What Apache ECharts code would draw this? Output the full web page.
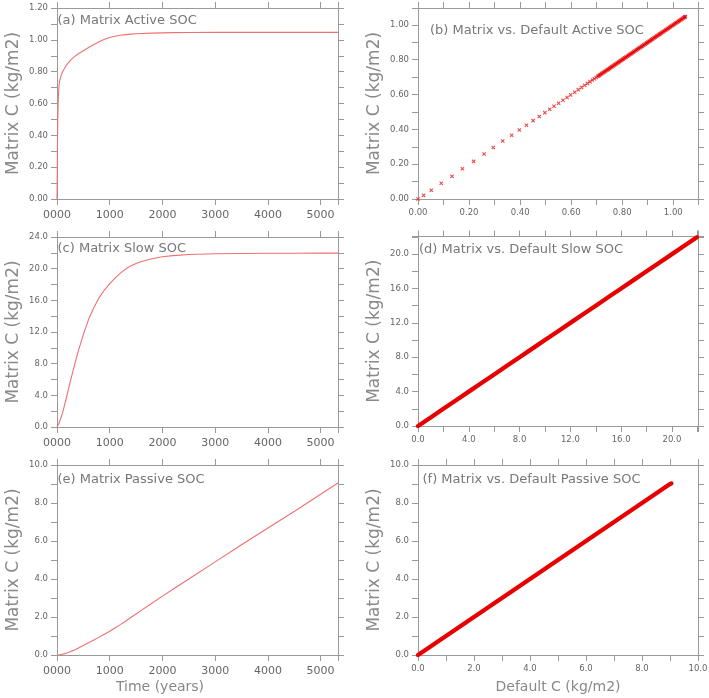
<!DOCTYPE html>
<html><head><meta charset="utf-8">
<script src="https://cdn.jsdelivr.net/npm/echarts@6/dist/echarts.min.js"></script>
<style>html,body{margin:0;padding:0;background:#fff}#c{width:709px;height:698px}</style>
</head><body><div id="c"></div>
<script>
// ---------------- data ----------------
const years = [0, 5, 10, 15, 20, 25, 30, 40, 50, 60, 80, 100, 125, 150, 175, 200, 250, 300, 350, 400, 450, 500,
  600, 700, 800, 900, 1000, 1100, 1200, 1300, 1400, 1500, 1600, 1800, 2000, 2200, 2500, 3000, 3500, 4000, 4500, 5000, 5330];
const activeMatrix = [0, 0.174, 0.367, 0.497, 0.584, 0.64, 0.675, 0.715, 0.74, 0.755, 0.778, 0.795, 0.811, 0.825, 0.839,
  0.851, 0.869, 0.885, 0.899, 0.911, 0.922, 0.932, 0.952, 0.971, 0.988, 1.003, 1.015, 1.023, 1.029, 1.033, 1.036,
  1.038, 1.040, 1.042, 1.044, 1.045, 1.046, 1.047, 1.047, 1.047, 1.047, 1.047, 1.047];
const slowMatrix = [0, 0.02, 0.07, 0.13, 0.2, 0.27, 0.34, 0.5, 0.67, 0.85, 1.25, 1.7, 2.3, 2.95, 3.6, 4.3, 5.7, 7.0,
  8.3, 9.5, 10.6, 11.7, 13.6, 15.1, 16.35, 17.3, 18.1, 18.8, 19.4, 19.95, 20.35, 20.65, 20.9, 21.25, 21.5, 21.65,
  21.78, 21.88, 21.92, 21.94, 21.95, 21.96, 21.96];
const passiveMatrix = [0, 0, 0.001, 0.001, 0.002, 0.003, 0.004, 0.007, 0.01, 0.014, 0.023, 0.035, 0.052, 0.072, 0.095,
  0.12, 0.173, 0.23, 0.293, 0.36, 0.43, 0.5, 0.64, 0.79, 0.94, 1.095, 1.25, 1.42, 1.6, 1.78, 1.97, 2.16, 2.35, 2.72,
  3.1, 3.46, 4.0, 4.9, 5.8, 6.68, 7.55, 8.46, 9.05];

// (b) active SOC: default vs matrix — sparse first years
const activeDefaultB = [0, 0.022, 0.052, 0.091, 0.133, 0.174, 0.218, 0.259, 0.295, 0.332, 0.367, 0.397, 0.425,
  0.451, 0.475, 0.497, 0.516, 0.533, 0.551, 0.568, 0.584, 0.598, 0.614, 0.628, 0.641, 0.653, 0.664, 0.674, 0.683, 0.691, 0.698];
const activeMatrixB = [0, 0.021, 0.05, 0.09, 0.131, 0.174, 0.216, 0.258, 0.296, 0.333, 0.366, 0.396, 0.424,
  0.45, 0.474, 0.496, 0.515, 0.533, 0.55, 0.567, 0.583, 0.598, 0.613, 0.628, 0.641, 0.653, 0.664, 0.674, 0.683, 0.691, 0.698];
// (b) dense part (later years, points merge into a band)
const activeDenseDefault = [0.705, 0.71, 0.715, 0.72, 0.725, 0.73, 0.735, 0.74, 0.745, 0.75, 0.755, 0.76, 0.765, 0.77,
  0.775, 0.78, 0.785, 0.79, 0.795, 0.8, 0.805, 0.81, 0.815, 0.82, 0.825, 0.83, 0.835, 0.84, 0.845, 0.85, 0.855, 0.86,
  0.865, 0.87, 0.875, 0.88, 0.885, 0.89, 0.895, 0.9, 0.905, 0.91, 0.915, 0.92, 0.925, 0.93, 0.935, 0.94, 0.945, 0.95,
  0.955, 0.96, 0.965, 0.97, 0.975, 0.98, 0.985, 0.99, 0.995, 1.0, 1.005, 1.01, 1.015, 1.02, 1.025, 1.03, 1.035, 1.04, 1.045, 1.047];
const activeDenseMatrix = [0.705, 0.71, 0.715, 0.72, 0.725, 0.73, 0.735, 0.74, 0.745, 0.75, 0.755, 0.76, 0.765, 0.77,
  0.775, 0.78, 0.785, 0.79, 0.795, 0.8, 0.805, 0.81, 0.815, 0.82, 0.825, 0.83, 0.835, 0.84, 0.845, 0.85, 0.855, 0.86,
  0.865, 0.87, 0.875, 0.88, 0.885, 0.89, 0.895, 0.9, 0.905, 0.91, 0.915, 0.92, 0.925, 0.93, 0.935, 0.94, 0.945, 0.95,
  0.955, 0.96, 0.965, 0.97, 0.975, 0.98, 0.985, 0.99, 0.995, 1.0, 1.005, 1.01, 1.015, 1.02, 1.025, 1.03, 1.035, 1.04, 1.045, 1.048];
// (d) slow SOC: default vs matrix
const slowDefaultD = [0, 1, 2, 3, 4, 5, 6, 7, 8, 9, 10, 11, 12, 13, 14, 15, 16, 17, 18, 19, 20, 21, 21.96];
const slowMatrixD  = [0, 1, 2, 3, 4, 5, 6, 7, 8, 9, 10, 11, 12, 13, 14, 15, 16, 17, 18, 19, 20, 21, 21.96];
// (f) passive SOC: default vs matrix
const passiveDefaultF = [0, 0.5, 1, 1.5, 2, 2.5, 3, 3.5, 4, 4.5, 5, 5.5, 6, 6.5, 7, 7.5, 8, 8.5, 9, 9.05];
const passiveMatrixF  = [0, 0.5, 1, 1.5, 2, 2.5, 3, 3.5, 4, 4.5, 5, 5.5, 6, 6.5, 7, 7.5, 8, 8.5, 9, 9.03];

const panelTitles = ['(a) Matrix Active SOC', '(b) Matrix vs. Default Active SOC',
  '(c) Matrix Slow SOC', '(d) Matrix vs. Default Slow SOC',
  '(e) Matrix Passive SOC', '(f) Matrix vs. Default Passive SOC'];
const yName = 'Matrix C (kg/m2)';
const timeName = 'Time (years)';
const defaultName = 'Default C (kg/m2)';

// ---------------- styling / layout ----------------
const FONT = 'DejaVu Sans';
const AXIS = '#9a9a9a';
const LABEL = '#666';
const zip = (a, b) => a.map((v, i) => [v, b[i]]);
const isMult = (v, s) => { const r = v / s; return Math.abs(r - Math.round(r)) < 1e-6; };
const fmt = (step, dec) => v => isMult(v, step) ? (Math.round(v / step) * step).toFixed(dec) : '';
const fmtYear = v => isMult(v, 1000) ? String(Math.round(v)).padStart(4, '0') : '';

const grids = [], xAxes = [], yAxes = [], series = [], titles = [];

function axisBase(gi) {
  return {
    gridIndex: gi, type: 'value',
    axisLine: { show: true, onZero: false, lineStyle: { color: AXIS, width: 1 } },
    axisTick: { show: true, inside: false, length: 6, lineStyle: { color: AXIS, width: 1 } },
    splitLine: { show: false }
  };
}

function addPanel(p) {
  const gi = grids.length;
  grids.push({ left: p.left, top: p.top, width: p.width, height: p.height, outerBoundsMode: 'none', containLabel: false });
  const xl = Object.assign(axisBase(gi), {
    position: 'bottom', min: p.x[0], max: p.x[1], interval: p.x[2],
    axisLabel: { show: true, margin: p.xLabelMargin, fontSize: p.xLabelSize, color: LABEL, fontFamily: FONT, formatter: p.xFmt }
  });
  if (p.xName) {
    Object.assign(xl, { name: p.xName, nameLocation: 'middle', nameGap: 25,
      nameTextStyle: { fontSize: 14, color: '#888', fontFamily: FONT, padding: p.xNamePad || 0 } });
  }
  xAxes.push(xl);
  xAxes.push(Object.assign(axisBase(gi), { position: 'top', min: p.x[0], max: p.x[1], interval: p.x[2], axisLabel: { show: false } }));
  yAxes.push(Object.assign(axisBase(gi), {
    position: 'left', min: p.y[0], max: p.y[1], interval: p.y[2],
    axisLabel: { show: true, margin: 9, fontSize: 8.5, color: LABEL, fontFamily: FONT, formatter: p.yFmt },
    name: yName, nameLocation: 'middle', nameGap: 35,
    nameTextStyle: { fontSize: 17, color: '#8a8a8a', fontFamily: FONT }
  }));
  yAxes.push(Object.assign(axisBase(gi), { position: 'right', min: p.y[0], max: p.y[1], interval: p.y[2], axisLabel: { show: false } }));
  p.series.forEach(sd => {
    series.push(Object.assign({ xAxisIndex: 2 * gi, yAxisIndex: 2 * gi, animation: false, silent: true }, sd));
  });
  titles.push({ text: p.title, left: p.tLeft, top: p.tTop, padding: 0,
    textStyle: { fontSize: 13, fontWeight: 'normal', color: '#777', fontFamily: FONT } });
}

const thinLine = { type: 'line', showSymbol: false, symbol: 'none',
  lineStyle: { color: '#ef7070', width: 1.1, join: 'round' } };
const thickLine = { type: 'line', showSymbol: false, symbol: 'none', lineStyle: { color: '#e80000', width: 4.3, cap: 'round' } };
const crosses = { type: 'scatter', symbol: 'path://M0,0L10,10M10,0L0,10', symbolSize: 3.3,
  itemStyle: { color: 'rgba(0,0,0,0)', borderColor: '#e82020', borderWidth: 1.1 } };
const crossesDense = { type: 'scatter', symbol: 'path://M0,0L10,10M10,0L0,10', symbolSize: 3.2,
  itemStyle: { color: 'rgba(0,0,0,0)', borderColor: '#e60000', borderWidth: 1.4 } };

const LX = 57, RX = 418, W = 281;
addPanel({ left: LX, top: 8, width: W, height: 191, x: [0, 5330, 1000], y: [0, 1.2, 0.1],
  xFmt: fmtYear, yFmt: fmt(0.2, 2), xLabelSize: 11, xLabelMargin: 11,
  series: [Object.assign({ data: zip(years, activeMatrix) }, thinLine)], title: panelTitles[0], tLeft: 57.5, tTop: 14 });
addPanel({ left: RX, top: 8, width: W - 1, height: 191, x: [0, 1.097, 0.1], y: [0, 1.097, 0.1],
  xFmt: fmt(0.2, 2), yFmt: fmt(0.2, 2), xLabelSize: 8.5, xLabelMargin: 9,
  series: [Object.assign({ data: zip(activeDefaultB, activeMatrixB) }, crosses),
           Object.assign({ data: zip(activeDenseDefault, activeDenseMatrix) }, crossesDense)],
  title: panelTitles[1], tLeft: 430, tTop: 24 });
addPanel({ left: LX, top: 237, width: W, height: 190, x: [0, 5330, 1000], y: [0, 24, 2],
  xFmt: fmtYear, yFmt: fmt(4, 1), xLabelSize: 11, xLabelMargin: 11,
  series: [Object.assign({ data: zip(years, slowMatrix) }, thinLine)], title: panelTitles[2], tLeft: 57.5, tTop: 242 });
addPanel({ left: RX, top: 236.5, width: W - 1, height: 189.5, x: [0, 22.05, 2], y: [0, 22.05, 2],
  xFmt: fmt(4, 1), yFmt: fmt(4, 1), xLabelSize: 8.5, xLabelMargin: 9,
  series: [Object.assign({ data: zip(slowDefaultD, slowMatrixD) }, thickLine)], title: panelTitles[3], tLeft: 419, tTop: 243.5 });
addPanel({ left: LX, top: 465, width: W, height: 190, x: [0, 5330, 1000], y: [0, 10, 1],
  xFmt: fmtYear, yFmt: fmt(2, 1), xLabelSize: 11, xLabelMargin: 11, xName: timeName, xNamePad: [0, 75, 0, 0],
  series: [Object.assign({ data: zip(years, passiveMatrix) }, thinLine)], title: panelTitles[4], tLeft: 57.5, tTop: 473.5 });
addPanel({ left: RX, top: 465, width: W - 1, height: 190, x: [0, 10, 1], y: [0, 10, 1],
  xFmt: fmt(2, 1), yFmt: fmt(2, 1), xLabelSize: 8.5, xLabelMargin: 9, xName: defaultName,
  series: [Object.assign({ data: zip(passiveDefaultF, passiveMatrixF) }, thickLine)], title: panelTitles[5], tLeft: 422.5, tTop: 473.5 });

const chart = echarts.init(document.getElementById('c'), null, { renderer: 'canvas' });
chart.setOption({
  backgroundColor: '#fff', animation: false,
  title: titles, grid: grids, xAxis: xAxes, yAxis: yAxes, series: series
});
</script></body></html>
